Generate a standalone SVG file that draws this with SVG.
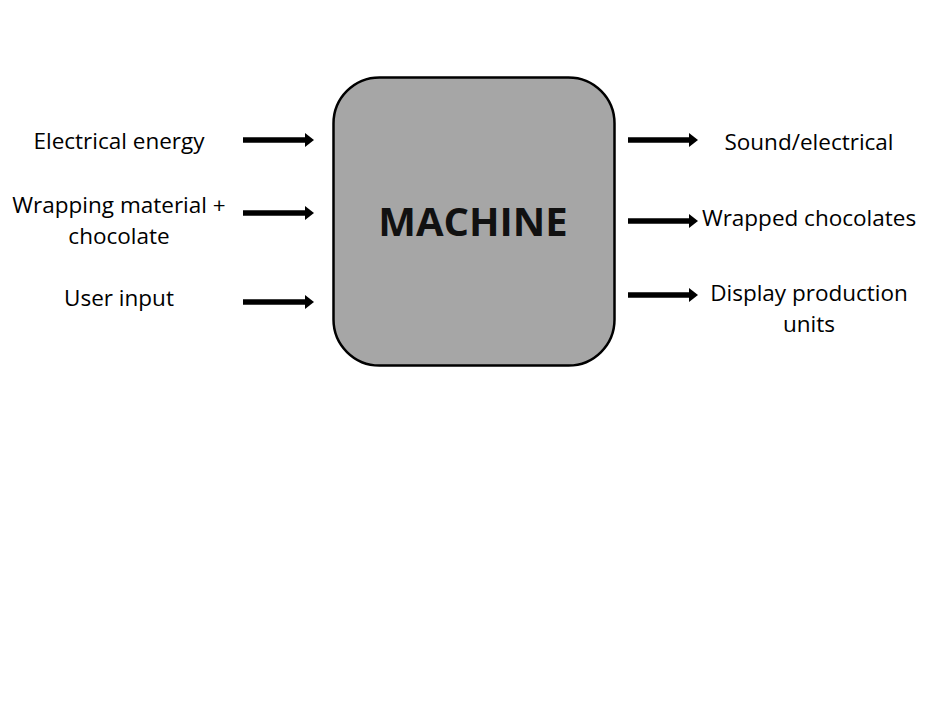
<svg xmlns="http://www.w3.org/2000/svg" width="926" height="701" viewBox="0 0 926 701">
<style>
.lbl{font-family:"Open Sans","Noto Sans","Liberation Sans",sans-serif;font-size:22.5px;fill:#000;text-anchor:middle}
.title{font-family:"Open Sans","Noto Sans","Liberation Sans",sans-serif;font-size:40px;font-weight:bold;fill:#111;text-anchor:middle}
.shaft{stroke:#000;stroke-width:5.5;fill:none}
.head{fill:#000}
</style>
<rect width="926" height="701" fill="#fff"/>
<g id="machine">
<rect x="333.5" y="77.5" width="281" height="288" rx="46" ry="46" fill="#a6a6a6" stroke="#000" stroke-width="2.5"/>
<text class="title" x="473" y="236">MACHINE</text>
</g>
<g id="in-electrical"><text class="lbl" x="119" y="149">Electrical energy</text></g>
<g id="in-wrapping"><text class="lbl" x="119" y="213">Wrapping material +</text><text class="lbl" x="119" y="244">chocolate</text></g>
<g id="in-user"><text class="lbl" x="119" y="306">User input</text></g>
<g id="out-sound"><text class="lbl" x="809" y="150">Sound/electrical</text></g>
<g id="out-wrapped"><text class="lbl" x="809" y="226">Wrapped chocolates</text></g>
<g id="out-display"><text class="lbl" x="809" y="301">Display production</text><text class="lbl" x="809" y="332">units</text></g>
<g id="connectors">
<line class="shaft" x1="243" y1="140" x2="307" y2="140"/><polygon class="head" points="305,133 314,140 305,147"/>
<line class="shaft" x1="243" y1="213" x2="307" y2="213"/><polygon class="head" points="305,206 314,213 305,220"/>
<line class="shaft" x1="243" y1="302" x2="307" y2="302"/><polygon class="head" points="305,295 314,302 305,309"/>
<line class="shaft" x1="628" y1="140" x2="691" y2="140"/><polygon class="head" points="689,133 698,140 689,147"/>
<line class="shaft" x1="628" y1="221" x2="691" y2="221"/><polygon class="head" points="689,214 698,221 689,228"/>
<line class="shaft" x1="628" y1="295" x2="691" y2="295"/><polygon class="head" points="689,288 698,295 689,302"/>
</g>
</svg>
